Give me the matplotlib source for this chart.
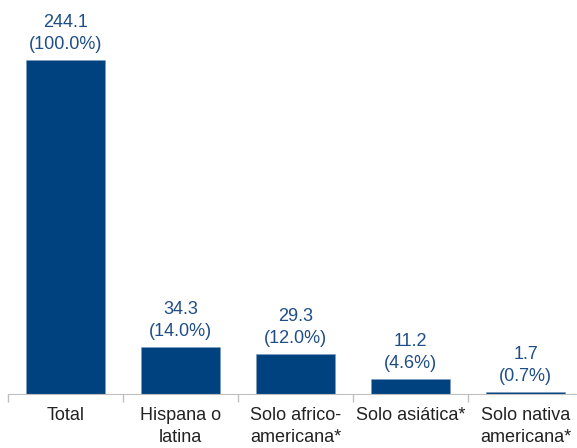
import matplotlib.pyplot as plt
import numpy as np

plt.rcParams['font.family'] = ['Liberation Sans', 'DejaVu Sans']

categories = ["Total", "Hispana o\nlatina", "Solo africo-\namericana*",
              "Solo asiática*", "Solo nativa\namericana*"]
values = [244.1, 34.3, 29.3, 11.2, 1.7]
shares = [100.0, 14.0, 12.0, 4.6, 0.7]

BAR = "#00427F"
TEXT_BLUE = "#1F4E86"

fig = plt.figure(figsize=(5.77, 4.48), dpi=100)
# axes run a bit past the right edge, like the original
ax = fig.add_axes([8 / 577, 54 / 448, 575 / 577, 334 / 448])

x = np.arange(len(values))
ax.bar(x, values, width=0.68, color=BAR, edgecolor="#7F9CC0", linewidth=0.4)

for xi, v, s in zip(x, values, shares):
    ax.annotate(f"{v:.1f}\n({s:.1f}%)", (xi, v), xytext=(0, 5),
                textcoords="offset points", ha="center", va="bottom",
                fontsize=13, color=TEXT_BLUE, linespacing=1.4)

ax.set_xlim(-0.5, len(values) - 0.5)
ax.set_ylim(0, 244.1)

ax.set_xticks(x)
ax.set_xticklabels(categories, fontsize=13, color="#222222", linespacing=1.45)
ax.set_xticks(np.arange(len(values) + 1) - 0.5, minor=True)
ax.tick_params(axis="x", which="major", length=0, pad=9)
ax.tick_params(axis="x", which="minor", length=6, color="#BFBFBF", width=1)

ax.set_yticks([])
for side in ("left", "right", "top"):
    ax.spines[side].set_visible(False)
ax.spines["bottom"].set_color("#BFBFBF")
ax.patch.set_visible(False)

fig.savefig("out.png", dpi=100)
